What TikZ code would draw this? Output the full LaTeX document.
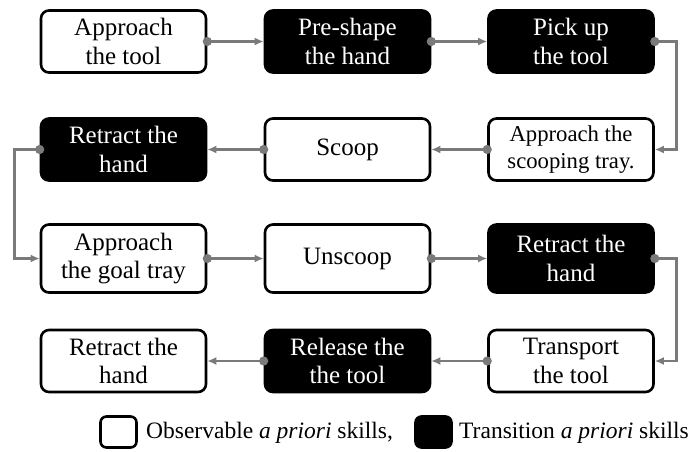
\documentclass[tikz,border=0pt]{standalone}
\usepackage{fontspec}
\setmainfont{Liberation Serif}
\usetikzlibrary{arrows.meta}
\definecolor{conngray}{HTML}{7A7A7A}
\tikzset{
  obs/.style={draw=black, line width=2.6pt, fill=white, rounded corners=8pt,
    minimum width=165pt, minimum height=62pt, align=center, inner sep=2pt,
    font=\fontsize{25}{28.5}\selectfont},
  tra/.style={obs, fill=black, text=white},
  conn/.style={draw=conngray, line width=2.8pt, shorten <=-4.5pt,
    {Circle[length=9pt,width=9pt]}-{Latex[length=9pt,width=8pt]}},
  legbox/.style={draw=black, line width=2.6pt, rounded corners=6pt,
    minimum width=36pt, minimum height=31pt},
  legtext/.style={anchor=west, inner sep=0pt, font=\fontsize{23.5}{26}\selectfont}
}
\begin{document}
\begin{tikzpicture}[x=1pt,y=-1pt]
\useasboundingbox (0,0) rectangle (690,451);
% row 1
\node[obs] (a1) at (123.5,41.5) {Approach\\the tool};
\node[tra] (a2) at (347.5,41.5) {Pre-shape\\the hand};
\node[tra] (a3) at (571,41.5) {Pick up\\the tool};
% row 2
\node[obs, font=\fontsize{22.7}{27}\selectfont] (b3) at (571,149.5) {Approach the\\scooping tray.};
\node[obs] (b2) at (347.5,149.5) {Scoop};
\node[tra] (b1) at (123.5,149.5) {Retract the\\hand};
% row 3
\node[obs, minimum height=68pt] (c1) at (123.5,258.5) {Approach\\the goal tray};
\node[obs, minimum height=68pt] (c2) at (347.5,258.5) {Unscoop};
\node[tra, minimum height=68pt] (c3) at (571,258.5) {Retract the\\hand};
% row 4
\node[obs] (d3) at (571,361) {Transport\\the tool};
\node[tra] (d2) at (347.5,361) {Release the\\the tool};
\node[obs] (d1) at (123.5,361) {Retract the\\hand};
% connectors
\draw[conn] (a1.east) -- (a2.west);
\draw[conn] (a2.east) -- (a3.west);
\draw[conn] (a3.east) -- ++(22,0) |- (b3.east);
\draw[conn] (b3.west) -- (b2.east);
\draw[conn] (b2.west) -- (b1.east);
\draw[conn] (b1.west) -- ++(-25,0) |- (c1.west);
\draw[conn] (c1.east) -- (c2.west);
\draw[conn] (c2.east) -- (c3.west);
\draw[conn] (c3.east) -- ++(22,0) |- (d3.east);
\draw[conn] (d3.west) -- (d2.east);
\draw[conn] (d2.west) -- (d1.east);
% legend
\node[legbox, fill=white] (l1) at (118.5,432) {};
\node[legtext] (t1) at (146,433) {Observable \textit{a priori} skills,};
\node[legbox, fill=black] (l2) at (433.5,432) {};
\node[legtext] (t2) at (459,433) {Transition \textit{a priori} skills};
\end{tikzpicture}
\end{document}
